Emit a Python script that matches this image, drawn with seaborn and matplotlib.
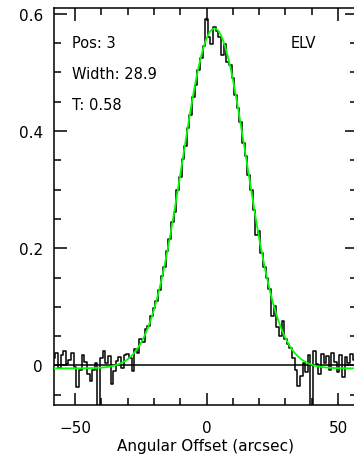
import numpy as np
import pandas as pd
import matplotlib
matplotlib.use("Agg")
import matplotlib.pyplot as plt
import seaborn as sns
from matplotlib.ticker import MultipleLocator

# Scan offsets (arcsec) and measured antenna temperature
offset = list(range(-58, 58))
signal = [
    0.012, 0.022, -0.004, 0.018, 0.025, 0.002, 0.010, 0.021, -0.003, -0.037,
    -0.008, 0.018, 0.006, -0.015, -0.026, -0.008, 0.005, -0.095, 0.012, 0.024,
    0.004, 0.016, -0.032, -0.010, 0.008, 0.014, -0.004, 0.018, 0.020, 0.012,
    -0.010, 0.028, 0.022, 0.045, 0.040, 0.062, 0.068, 0.085, 0.098, 0.110,
    0.128, 0.152, 0.168, 0.195, 0.215, 0.245, 0.262, 0.300, 0.322, 0.352,
    0.375, 0.405, 0.428, 0.458, 0.478, 0.505, 0.525, 0.545, 0.592, 0.560,
    0.548, 0.578, 0.570, 0.560, 0.530, 0.548, 0.518, 0.512, 0.490, 0.462,
    0.440, 0.415, 0.380, 0.358, 0.325, 0.300, 0.265, 0.222, 0.230, 0.192,
    0.168, 0.150, 0.130, 0.085, 0.102, 0.066, 0.050, 0.075, 0.045, 0.036,
    0.030, 0.012, -0.008, -0.035, -0.018, 0.005, -0.012, 0.018, -0.100, 0.024,
    0.002, -0.015, 0.020, 0.004, 0.016, -0.008, 0.022, 0.006, -0.012, 0.018,
    -0.020, 0.014, 0.004, 0.020, 0.010, -0.006,
]

# Gaussian fit parameters
pos_index = 3
fit_center = 3.0
fit_width = 28.9      # FWHM, arcsec
fit_peak = 0.58
fit_base = -0.005
scan_axis = "ELV"

sns.set_theme(style="ticks")
plt.rcParams["font.family"] = ["DejaVu Sans"]
plt.rcParams["axes.unicode_minus"] = True
plt.rcParams["text.color"] = "black"

fig = plt.figure(figsize=(3.54, 4.60), dpi=100)
x0, x1 = 54 / 354, 357 / 354
y0, y1 = (460 - 406) / 460, (460 - 9) / 460
ax = fig.add_axes([x0, y0, x1 - x0, y1 - y0])

df = pd.DataFrame({"offset": offset, "signal": signal})
sns.lineplot(data=df, x="offset", y="signal", ax=ax, color="black",
             linewidth=1.1, drawstyle="steps-mid", estimator=None, sort=True)

ax.axhline(0, color="black", linewidth=1.1, zorder=3)

xs = np.linspace(-58, 57.5, 600)
sigma = fit_width / (2 * np.sqrt(2 * np.log(2)))
fit = fit_base + fit_peak * np.exp(-0.5 * ((xs - fit_center) / sigma) ** 2)
fit_df = pd.DataFrame({"offset": xs, "fit": fit})
sns.lineplot(data=fit_df, x="offset", y="fit", ax=ax, color="#00ff00",
             linewidth=1.3, zorder=4, estimator=None)

ax.set_xlim(-58, 57.2)
ax.set_ylim(-0.0675, 0.610)

ax.xaxis.set_major_locator(MultipleLocator(50))
ax.xaxis.set_minor_locator(MultipleLocator(10))
ax.yaxis.set_major_locator(MultipleLocator(0.2))
ax.yaxis.set_minor_locator(MultipleLocator(0.05))
ax.yaxis.set_major_formatter(plt.FuncFormatter(lambda v, p: "0" if abs(v) < 1e-9 else f"{v:.1f}"))

ax.tick_params(which="both", direction="in", top=True, right=True,
               width=1.1, color="black", labelsize=11, labelcolor="black")
ax.tick_params(which="major", length=9)
ax.tick_params(which="minor", length=5)
ax.tick_params(axis="y", pad=8)
ax.tick_params(axis="x", pad=11)

for s in ax.spines.values():
    s.set_linewidth(1.1)
    s.set_color("black")

ax.set_xlabel("Angular Offset (arcsec)", fontsize=11, labelpad=2, color="black")
ax.set_ylabel("")

for ypos, label in [(0.914, f"Pos: {pos_index}"),
                    (0.834, f"Width: {fit_width}"),
                    (0.758, f"T: {fit_peak}")]:
    ax.text(0.06, ypos, label, transform=ax.transAxes, color="black",
            fontsize=10.5, va="center", ha="left")
ax.text(0.78, 0.914, scan_axis, transform=ax.transAxes, color="black",
        fontsize=10.5, va="center", ha="left")

fig.savefig("out.png", dpi=100, facecolor="white")
